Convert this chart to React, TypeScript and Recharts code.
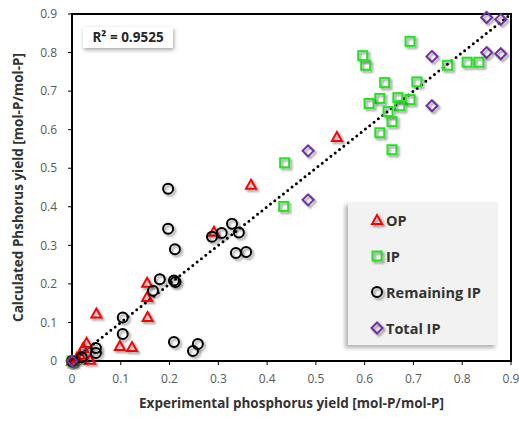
import {
  Label,
  ReferenceArea,
  ReferenceLine,
  Scatter,
  ScatterChart,
  XAxis,
  YAxis,
} from 'recharts';

// [experimental, calculated]
const opPoints = [
  [0, 0], [0.016, 0.016], [0.023, 0.034], [0.03, 0.047], [0.037, 0.003], [0.01, 0.008],
  [0.05, 0.123], [0.098, 0.039], [0.123, 0.036], [0.155, 0.114], [0.154, 0.166],
  [0.154, 0.203], [0.291, 0.335], [0.367, 0.457], [0.543, 0.581],
];
const ipPoints = [
  [0, 0], [0.434, 0.401], [0.436, 0.514], [0.596, 0.792], [0.602, 0.767], [0.693, 0.829],
  [0.641, 0.722], [0.707, 0.724], [0.631, 0.681], [0.609, 0.668], [0.668, 0.683],
  [0.693, 0.678], [0.672, 0.662], [0.648, 0.647], [0.656, 0.621], [0.631, 0.592],
  [0.656, 0.548], [0.77, 0.767], [0.81, 0.775], [0.834, 0.775],
];
const remainingPoints = [
  [0, 0], [0.02, 0.01], [0.049, 0.034], [0.049, 0.021], [0.104, 0.113], [0.104, 0.07],
  [0.166, 0.182], [0.18, 0.212], [0.209, 0.209], [0.212, 0.205], [0.211, 0.29],
  [0.197, 0.343], [0.197, 0.447], [0.209, 0.049], [0.248, 0.026], [0.258, 0.044],
  [0.287, 0.322], [0.307, 0.332], [0.328, 0.356], [0.342, 0.333], [0.336, 0.28],
  [0.357, 0.283],
];
const totalPoints = [
  [0, 0], [0.484, 0.418], [0.484, 0.545], [0.738, 0.662], [0.738, 0.79],
  [0.85, 0.8], [0.879, 0.797], [0.85, 0.891], [0.879, 0.886],
];
const axisTicks = [0, 0.1, 0.2, 0.3, 0.4, 0.5, 0.6, 0.7, 0.8, 0.9];
const fitLine = [{ x: 0, y: 0 }, { x: 0.9, y: 0.9 }];
const rSquared = 'R² = 0.9525';

const RED = '#ff0000';
const GREEN = '#1ee61e';
const BLACK = '#000000';
const PURPLE = '#7030a0';
const FONT = '"Open Sans", "DejaVu Sans", sans-serif';
const SHADOW = { filter: 'drop-shadow(2px 2px 1.2px rgba(0,0,0,0.4))' };

const toXY = (pts: number[][]) => pts.map(([x, y]) => ({ x, y }));

function Triangle({ cx, cy }: any) {
  return (
    <path d={`M${cx},${cy - 5} L${cx + 5},${cy + 4} L${cx - 5},${cy + 4} Z`}
      fill="none" stroke={RED} strokeWidth={2} strokeLinejoin="miter" style={SHADOW} />
  );
}
function Square({ cx, cy }: any) {
  return <rect x={cx - 4.5} y={cy - 4.5} width={9} height={9} fill="none" stroke={GREEN} strokeWidth={2} style={SHADOW} />;
}
function Circle({ cx, cy }: any) {
  return <circle cx={cx} cy={cy} r={5} fill="none" stroke={BLACK} strokeWidth={2} style={SHADOW} />;
}
function Diamond({ cx, cy }: any) {
  return (
    <path d={`M${cx},${cy - 5.5} L${cx + 5.5},${cy} L${cx},${cy + 5.5} L${cx - 5.5},${cy} Z`}
      fill="none" stroke={PURPLE} strokeWidth={2} style={SHADOW} />
  );
}

const legendItems = [
  { name: 'OP', Shape: Triangle },
  { name: 'IP', Shape: Square },
  { name: 'Remaining IP', Shape: Circle },
  { name: 'Total IP', Shape: Diamond },
];

const fmt = (v: number) => (v === 0 ? '0' : String(v));

export default function App() {
  return (
    <div style={{ position: 'absolute', left: 0, top: 0, width: 519, height: 425, background: '#fff', fontFamily: FONT }}>
      <ScatterChart width={519} height={425} margin={{ top: 14, right: 8, bottom: 0, left: 0 }}>
        <XAxis type="number" dataKey="x" domain={[0, 0.9]} ticks={axisTicks} tickFormatter={fmt}
          height={64} axisLine={{ stroke: '#000', strokeWidth: 2 }} tickLine={{ stroke: '#000' }}
          tickSize={4} tickMargin={9} tick={{ fill: '#595959', fontSize: 12, fontFamily: FONT }}>
          <Label value="Experimental phosphorus yield [mol-P/mol-P]" position="insideBottom" offset={17}
            fill="#333" fontSize={13.5} fontWeight="bold" fontFamily={FONT} />
        </XAxis>
        <YAxis type="number" dataKey="y" domain={[0, 0.9]} ticks={axisTicks} tickFormatter={fmt}
          width={72} axisLine={{ stroke: '#000', strokeWidth: 2 }} tickLine={{ stroke: '#000' }}
          tickSize={4} tickMargin={11} tick={{ fill: '#595959', fontSize: 12, fontFamily: FONT }}>
          <Label value="Calculated Phshorus yield  [mol-P/mol-P]" position="insideLeft" offset={18} angle={-90}
            textAnchor="middle" fill="#333" fontSize={13.5} fontWeight="bold" fontFamily={FONT} />
        </YAxis>
        <ReferenceArea x1={0} x2={0.9} y1={0} y2={0.9} fill="none" stroke="#000" strokeWidth={2} />
        <ReferenceLine segment={fitLine} stroke="#000" strokeWidth={3} strokeDasharray="0 5.5" strokeLinecap="round" />
        <Scatter name="OP" data={toXY(opPoints)} shape={<Triangle />} isAnimationActive={false} />
        <Scatter name="IP" data={toXY(ipPoints)} shape={<Square />} isAnimationActive={false} />
        <Scatter name="Remaining IP" data={toXY(remainingPoints)} shape={<Circle />} isAnimationActive={false} />
        <Scatter name="Total IP" data={toXY(totalPoints)} shape={<Diamond />} isAnimationActive={false} />
      </ScatterChart>

      <div style={{
        position: 'absolute', left: 83, top: 27, width: 90, height: 21, background: '#fff',
        boxShadow: '1px 2px 4px rgba(0,0,0,0.35)', fontWeight: 'bold', fontSize: 13.5, color: '#262626',
        lineHeight: '21px', textAlign: 'center',
      }}>
        {rSquared}
      </div>

      <div style={{
        position: 'absolute', left: 348, top: 202, width: 150, height: 143, background: '#f2f2f2',
        boxShadow: '-3px 3px 4px rgba(0,0,0,0.3)',
      }}>
        {legendItems.map(({ name, Shape }, i) => (
          <div key={name} style={{ position: 'absolute', left: 22, top: 8 + i * 36, height: 20, display: 'flex', alignItems: 'center' }}>
            <svg width={14} height={14} style={{ overflow: 'visible' }}>
              <Shape cx={7} cy={7} />
            </svg>
            <span style={{ marginLeft: 2, fontWeight: 'bold', fontSize: 14.5, color: '#333' }}>{name}</span>
          </div>
        ))}
      </div>
    </div>
  );
}
